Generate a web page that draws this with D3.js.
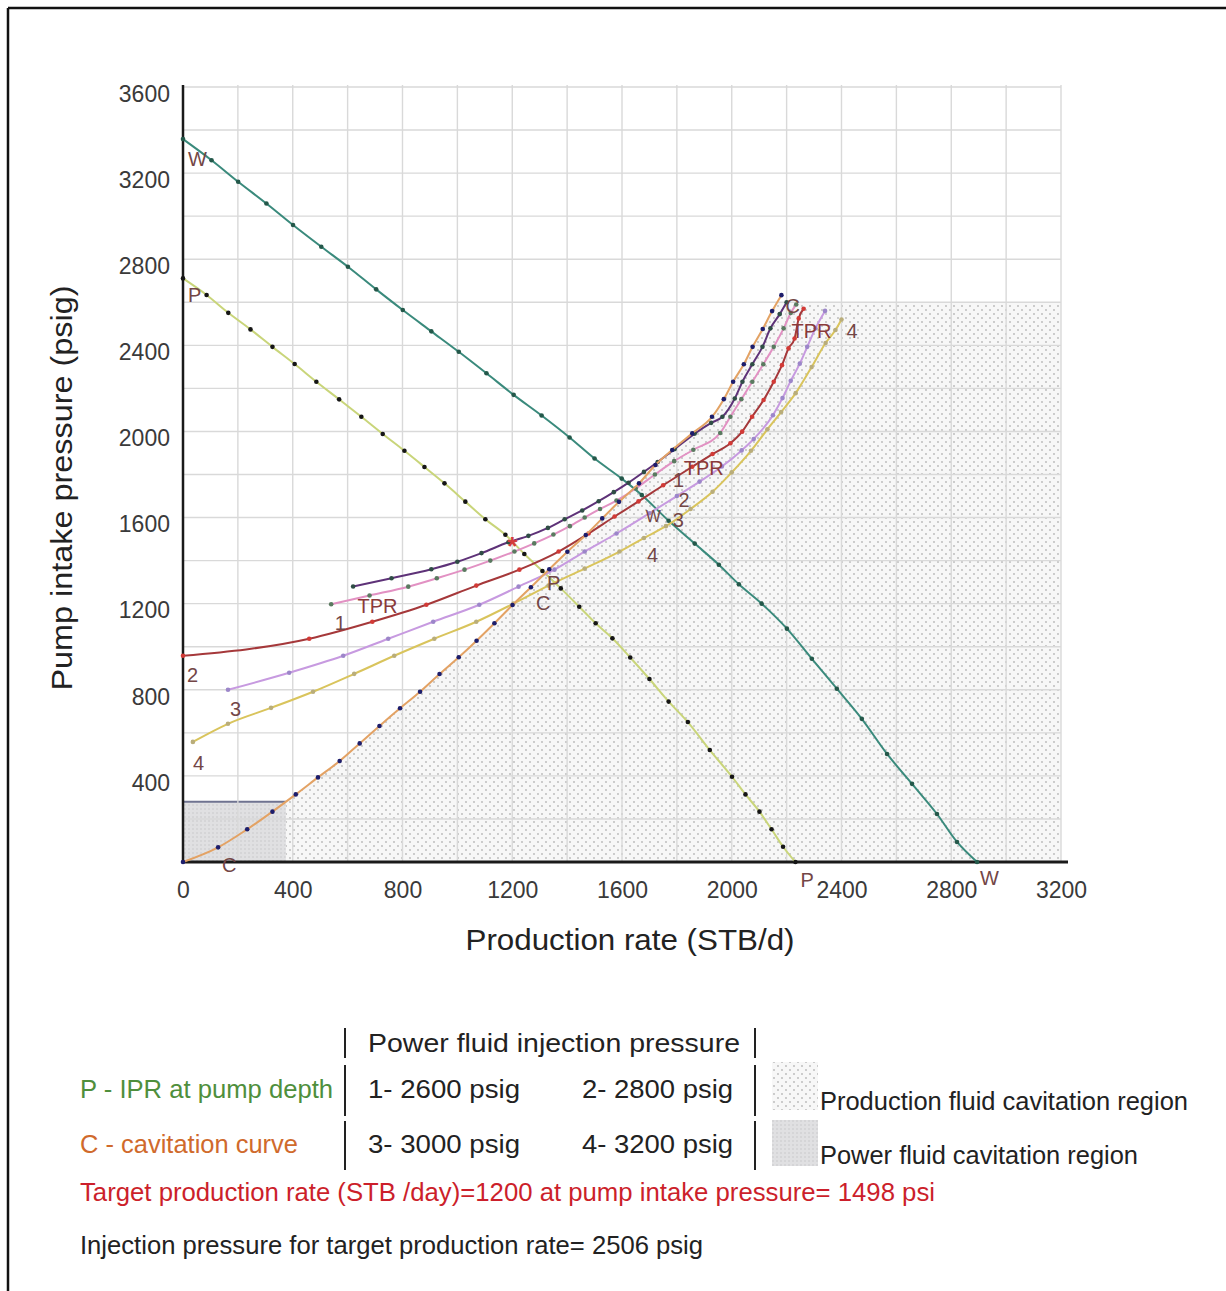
<!DOCTYPE html>
<html>
<head>
<meta charset="utf-8">
<script src="https://cdn.jsdelivr.net/npm/d3@7"></script>
<style>
body{margin:0;background:#fff;}
text{font-family:"Liberation Sans",Arial,sans-serif;}
</style>
</head>
<body>
<div id="chart"></div>
<script>
(function(){
"use strict"
//---Jet pump performance chart---

//[production rate STB/d, pump intake pressure psig]
var wCurve = [[0,3358],[104,3260],[201,3160],[304,3059],[401,2959],[504,2858],[601,2765],[704,2660],[801,2564],
	[905,2465],[1005,2370],[1106,2270],[1205,2170],[1307,2074],[1409,1972],[1500,1874],[1599,1781],[1672,1705],
	[1770,1585],[1865,1479],[1953,1381],[2026,1290],[2109,1200],[2201,1084],[2292,944],[2383,805],[2474,665],
	[2566,502],[2657,363],[2748,223],[2821,93],[2894,0]];

var pCurve = [[0,2711],[86,2634],[165,2551],[246,2474],[326,2393],[407,2313],[486,2231],[569,2149],[650,2068],
	[728,1988],[807,1910],[880,1835],[953,1759],[1029,1674],[1102,1592],[1175,1520],[1244,1431],[1310,1352],
	[1377,1271],[1444,1186],[1504,1109],[1565,1039],[1630,950],[1700,850],[1770,745],[1840,650],[1920,520],
	[2001,396],[2050,314],[2101,234],[2145,152],[2187,71],[2232,0]];

var cCurve = [[0,0],[128,68],[234,152],[326,234],[411,314],[492,393],[571,469],[644,551],[716,632],[791,714],
	[864,791],[935,873],[1005,951],[1070,1028],[1135,1109],[1201,1194],[1268,1276],[1335,1360],[1401,1441],
	[1468,1519],[1528,1596],[1589,1673],[1662,1759],[1722,1844],[1783,1914],[1856,1991],[1928,2068],[1971,2150],
	[2005,2231],[2044,2312],[2076,2393],[2113,2476],[2147,2559],[2181,2633]];

var tpr0 = [[620,1280],[760,1318],[905,1360],[1000,1395],[1088,1435],[1186,1485],[1259,1515],[1330,1552],
	[1391,1592],[1455,1633],[1515,1676],[1570,1718],[1624,1762],[1680,1812],[1730,1858],[1792,1918],[1865,1990],
	[1925,2040],[1966,2068],[2011,2153],[2039,2231],[2075,2312],[2112,2393],[2141,2479],[2175,2545],[2200,2600]];

var tpr1 = [[540,1197],[680,1238],[821,1279],[925,1318],[1026,1358],[1120,1400],[1208,1442],[1280,1480],
	[1350,1521],[1410,1560],[1464,1600],[1520,1640],[1580,1679],[1650,1735],[1720,1800],[1790,1862],[1860,1915],
	[1958,1993],[1995,2068],[2035,2150],[2075,2231],[2115,2312],[2153,2393],[2189,2479],[2215,2550],[2235,2590]];

var tpr2 = [[0,958],[460,1037],[690,1116],[887,1195],[1069,1284],[1226,1358],[1369,1442],[1478,1526],
	[1573,1605],[1660,1675],[1750,1750],[1856,1836],[1930,1895],[1995,1945],[2038,1999],[2074,2068],[2116,2146],
	[2153,2231],[2183,2308],[2207,2386],[2229,2432],[2244,2525],[2262,2570]];

var tpr3 = [[164,800],[387,879],[584,958],[748,1037],[912,1116],[1080,1195],[1223,1279],[1354,1358],
	[1464,1442],[1580,1526],[1700,1620],[1800,1700],[1883,1767],[1964,1837],[2036,1912],[2080,1965],
	[2150,2075],[2185,2155],[2215,2235],[2248,2315],[2275,2393],[2305,2479],[2340,2560]];

var tpr4 = [[36,558],[164,642],[321,716],[474,791],[624,874],[770,958],[916,1037],[1069,1116],[1204,1200],
	[1332,1284],[1464,1363],[1591,1442],[1680,1505],[1760,1560],[1850,1640],[1930,1720],[2000,1810],[2070,1910],
	[2130,2010],[2180,2090],[2233,2178],[2291,2299],[2342,2411],[2378,2471],[2400,2520]];

var target = [1200,1498];
var cavLimits = [280,2600]; //power fluid / production fluid cavitation pressure limits

var xTicks = [0,400,800,1200,1600,2000,2400,2800,3200],
	yTicks = [0,400,800,1200,1600,2000,2400,2800,3200,3600];

var curveLabels = [
	{t:'W',q:18,p:3233},{t:'P',q:18,p:2601},{t:'W',q:2905,p:-107},{t:'P',q:2251,p:-116},
	{t:'C',q:142,p:-46},{t:'C',q:1287,p:1170},{t:'P',q:1327,p:1263},{t:'C',q:2196,p:2550},
	{t:'TPR',q:2218,p:2434},{t:'4',q:2418,p:2434},{t:'TPR',q:636,p:1157},{t:'1',q:553,p:1078},
	{t:'2',q:15,p:836},{t:'3',q:171,p:678},{t:'4',q:36,p:427},{t:'TPR',q:1825,p:1797},
	{t:'1',q:1786,p:1742},{t:'2',q:1806,p:1648},{t:'W',q:1687,p:1579},{t:'3',q:1785,p:1556},
	{t:'4',q:1691,p:1393}];

var injLabels = ['1-  2600 psig','2-  2800 psig','3-  3000 psig','4-  3200 psig'];

var series = [
	{data:wCurve, line:'#3a8a7c', dot:'#24584a'},
	{data:pCurve, line:'#c9d57a', dot:'#151515'},
	{data:tpr4, line:'#d9c45c', dot:'#b9ad7a'},
	{data:tpr3, line:'#c79ae0', dot:'#9c86c9'},
	{data:tpr2, line:'#a5383a', dot:'#d23a36'},
	{data:tpr1, line:'#e291c3', dot:'#5a7a60'},
	{data:tpr0, line:'#5e3278', dot:'#2f4d45'},
	{data:cCurve, line:'#e3a264', dot:'#1d1d6b'}
];

var width = 1226, height = 1291;

var x = d3.scaleLinear().domain([0,3200]).range([183,1061]),
	y = d3.scaleLinear().domain([0,3600]).range([862,87]);

//q at a given p along a curve
var qAt = function(curve,p){
	for (var i=1;i<curve.length;i++){
		if (curve[i][1]>=p){
			var a=curve[i-1], b=curve[i];
			return a[0]+(b[0]-a[0])*(p-a[1])/(b[1]-a[1]);
		}
	}
	return curve[curve.length-1][0];
};

var svg = d3.select('#chart').append('svg')
	.attr('width',width)
	.attr('height',height)
	.style('background','#fff');

var defs = svg.append('defs');
var pat = defs.append('pattern').attr('id','prodDots')
	.attr('width',8).attr('height',8).attr('patternUnits','userSpaceOnUse');
pat.append('rect').attr('width',8).attr('height',8).attr('fill','#f7f7f7');
pat.append('circle').attr('cx',2).attr('cy',2).attr('r',0.9).attr('fill','#b8b8b8');
pat.append('circle').attr('cx',6).attr('cy',6).attr('r',0.9).attr('fill','#b8b8b8');

var pat2 = defs.append('pattern').attr('id','powerDots')
	.attr('width',4).attr('height',4).attr('patternUnits','userSpaceOnUse');
pat2.append('rect').attr('width',4).attr('height',4).attr('fill','#e0e0e2');
pat2.append('circle').attr('cx',1).attr('cy',1).attr('r',0.8).attr('fill','#c8c8ca');

//page frame
svg.append('line').attr('x1',8).attr('x2',width).attr('y1',8).attr('y2',8)
	.style('stroke','#111').style('stroke-width',2.5);
svg.append('line').attr('x1',8).attr('x2',8).attr('y1',8).attr('y2',height)
	.style('stroke','#111').style('stroke-width',2.5);

//cavitation regions
var qLow = qAt(cCurve,cavLimits[0]), qHigh = qAt(cCurve,cavLimits[1]);
var prodPoly = [[qLow,0],[qLow,cavLimits[0]]]
	.concat(cCurve.filter(function(d){return d[1]>cavLimits[0] && d[1]<cavLimits[1];}))
	.concat([[qHigh,cavLimits[1]],[3200,cavLimits[1]],[3200,0]]);

svg.append('path')
	.attr('d',d3.line().x(function(d){return x(d[0]);}).y(function(d){return y(d[1]);})(prodPoly)+'Z')
	.style('fill','url(#prodDots)');

svg.append('rect')
	.attr('x',x(0)).attr('y',y(cavLimits[0]))
	.attr('width',x(qLow)-x(0)).attr('height',y(0)-y(cavLimits[0]))
	.style('fill','url(#powerDots)');
svg.append('line')
	.attr('x1',x(0)).attr('x2',x(qLow)).attr('y1',y(cavLimits[0])).attr('y2',y(cavLimits[0]))
	.style('stroke','#6f7390').style('stroke-width',2);

//grid every 200
var grid = svg.append('g').style('stroke','#d9d9d9').style('stroke-width',1.4);
grid.selectAll('.gx').data(d3.range(200,3201,200)).enter().append('line')
	.attr('x1',function(d){return x(d);}).attr('x2',function(d){return x(d);})
	.attr('y1',y(0)).attr('y2',y(3600)-2);
grid.selectAll('.gy').data(d3.range(200,3601,200)).enter().append('line')
	.attr('y1',function(d){return y(d);}).attr('y2',function(d){return y(d);})
	.attr('x1',x(0)).attr('x2',x(3200));

//axes
var xAxis = svg.append('g').attr('transform','translate(0,'+y(0)+')')
	.call(d3.axisBottom(x).tickValues(xTicks).tickSize(0).tickPadding(14).tickFormat(d3.format('d')));
var yAxis = svg.append('g').attr('transform','translate('+x(0)+',0)')
	.call(d3.axisLeft(y).tickValues(yTicks.filter(function(d){return d>0;})).tickSize(0).tickPadding(13).tickFormat(d3.format('d')));
[xAxis,yAxis].forEach(function(g){
	g.select('.domain').remove();
	g.selectAll('text').style('font-family','"Liberation Sans",Arial,sans-serif')
		.style('font-size','23px').style('fill','#3a3a3a');
});
yAxis.selectAll('text').attr('dy','0.62em');
xAxis.selectAll('text').attr('dy','0.95em');

svg.append('line').attr('x1',x(0)).attr('x2',1068).attr('y1',y(0)).attr('y2',y(0))
	.style('stroke','#1a1a1a').style('stroke-width',3);
svg.append('line').attr('x1',x(0)).attr('x2',x(0)).attr('y1',y(0)).attr('y2',y(3600)-2)
	.style('stroke','#1a1a1a').style('stroke-width',2.5);

//curves
var line = d3.line()
	.x(function(d){return x(d[0]);})
	.y(function(d){return y(d[1]);})
	.curve(d3.curveMonotoneX);

series.forEach(function(s){
	svg.append('path').attr('d',line(s.data))
		.style('fill','none').style('stroke',s.line).style('stroke-width',2);
	svg.selectAll(null).data(s.data).enter().append('circle')
		.attr('cx',function(d){return x(d[0]);})
		.attr('cy',function(d){return y(d[1]);})
		.attr('r',2.3)
		.style('fill',s.dot);
});

//target point
svg.append('text').attr('x',x(target[0])).attr('y',y(target[1]))
	.attr('text-anchor','middle').attr('dy','0.6em')
	.style('font-size','26px').style('font-weight','bold').style('fill','#d43c3c')
	.text('*');

svg.selectAll('.clabel').data(curveLabels).enter().append('text')
	.attr('x',function(d){return x(d.q);})
	.attr('y',function(d){return y(d.p);})
	.style('font-size',function(d){return d.t==='W' && d.p>1000 && d.p<2000 ? '16px' : '20px';})
	.style('fill',function(d){return d.t==='TPR' ? '#8a3a3a' : '#734646';})
	.text(function(d){return d.t;});

//axis titles
svg.append('text').attr('x',630).attr('y',950).attr('text-anchor','middle')
	.attr('textLength',329).attr('lengthAdjust','spacingAndGlyphs')
	.style('font-size','29px').style('fill','#222').text('Production rate (STB/d)');
svg.append('text').attr('transform','translate(72,488) rotate(-90)').attr('text-anchor','middle')
	.attr('textLength',405).attr('lengthAdjust','spacingAndGlyphs')
	.style('font-size','29px').style('fill','#222').text('Pump intake pressure  (psig)');

//legend block
var leg = svg.append('g');
var legText = function(t,lx,ly,len,col){
	leg.append('text').attr('x',lx).attr('y',ly)
		.attr('textLength',len).attr('lengthAdjust','spacingAndGlyphs')
		.style('font-size','25px').style('fill',col).text(t);
};
[345,755].forEach(function(bx){
	[[1028,1058],[1065,1116],[1121,1170]].forEach(function(seg){
		leg.append('line').attr('x1',bx).attr('x2',bx).attr('y1',seg[0]).attr('y2',seg[1])
			.style('stroke','#222').style('stroke-width',2);
	});
});
legText('Power fluid injection pressure',368,1052,372,'#222');
legText('P - IPR at pump depth',80,1098,253,'#4f8f3c');
legText('C - cavitation curve',80,1153,218,'#d06a2c');
legText(injLabels[0],368,1098,152,'#222');
legText(injLabels[1],582,1098,151,'#222');
legText(injLabels[2],368,1153,152,'#222');
legText(injLabels[3],582,1153,151,'#222');

leg.append('rect').attr('x',772).attr('y',1062).attr('width',46).attr('height',48).style('fill','url(#prodDots)');
leg.append('rect').attr('x',772).attr('y',1120).attr('width',46).attr('height',46).style('fill','url(#powerDots)');
legText('Production fluid cavitation region',820,1110,368,'#222');
legText('Power fluid cavitation region',820,1164,318,'#222');

legText('Target production rate (STB /day)='+target[0]+' at pump intake pressure= '+target[1]+' psi',80,1201,855,'#cc1f2b');
legText('Injection pressure for target production rate= 2506 psig',80,1254,623,'#222');

})();
</script>
</body>
</html>
